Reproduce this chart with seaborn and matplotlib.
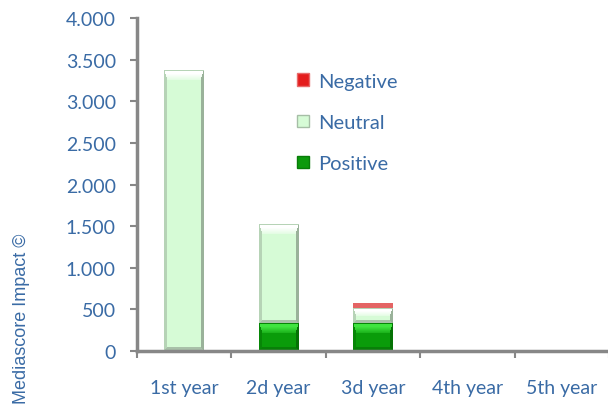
import matplotlib
matplotlib.use("Agg")
import matplotlib.pyplot as plt
from matplotlib.patches import Patch
from matplotlib.colors import to_rgb
import numpy as np
import pandas as pd
import seaborn as sns

# Mediascore impact per year, split by tone
years = ["1st year", "2d year", "3d year", "4th year", "5th year"]
positive = [0, 330, 330, 0, 8]
neutral = [3370, 1200, 190, 0, 0]
negative = [0, 0, 50, 0, 0]
yticks = [0, 500, 1000, 1500, 2000, 2500, 3000, 3500, 4000]
ytick_labels = ["0", "500", "1.000", "1.500", "2.000", "2.500", "3.000", "3.500", "4.000"]

TEXT_BLUE = "#3a6ba5"
AXIS_GREY = "#878787"

sns.set_style("white")
plt.rcParams["font.family"] = ["Lato", "DejaVu Sans"]

df = pd.DataFrame({"year": years, "pos": positive, "neu": neutral, "neg": negative})
df["zero"] = 0
df["pos_neu"] = df["pos"] + df["neu"]
df["total"] = df["pos_neu"] + df["neg"]

fig = plt.figure(figsize=(6.08, 4.06), dpi=100)
ax = fig.add_axes([0.225, 0.133, 0.777, 0.82])

# (top column, bottom column, face, top highlight, left, right, bottom shade)
layers = [
    ("total", "pos_neu", "#e46464", "#e46464", "#e46464", "#e46464", "#e46464"),
    ("pos_neu", "pos", "#d6fbd6", "#ffffff", "#b6d3b6", "#9ab29a", "#a8c0a8"),
    ("pos", "zero", "#0a9c0a", "#40e440", "#078607", "#057205", "#088008"),
]
for top_col, _, face, *_rest in layers:
    sns.barplot(data=df, x="year", y=top_col, color=face, saturation=1,
                width=0.42, linewidth=0, ax=ax)

ax.set_xlim(-0.5, len(years) - 0.5)
ax.set_ylim(0, 4000)
fig.canvas.draw()


def bevel_image(w, h, face, top, left, right, bottom, side_w=3, top_w=10, bot_w=4):
    """Picture-frame bevel: lit top, shaded sides and floor."""
    img = np.empty((h, w, 3))
    img[:] = to_rgb(face)
    yy, xx = np.mgrid[0:h, 0:w].astype(float)
    top_w = min(top_w, max(1, h / 2))
    bot_w = min(bot_w, max(1, h / 3))
    dists = {
        "left": xx / side_w,
        "right": (w - 1 - xx) / side_w,
        "top": yy / top_w,
        "bottom": (h - 1 - yy) / bot_w,
    }
    dmin = np.stack(list(dists.values())).min(axis=0)
    colors = {"left": left, "right": right, "top": top, "bottom": bottom}
    for name, d in dists.items():
        m = (d == dmin) & (d < 1)
        if name == "top":
            fade = (np.clip(1.35 - 1.1 * d, 0, 1) * m)[..., None]
            img = img * (1 - fade) + np.array(to_rgb(colors[name])) * fade
        else:
            img[m] = to_rgb(colors[name])
    # thin rim along the very top edge
    img[0, :] = to_rgb(left)
    return img


# Shade every visible bar segment between its lower and upper cumulative value
for (top_col, bot_col, face, top, left, right, bottom), bars in zip(layers, ax.containers):
    for patch, lo, hi in zip(bars.patches, df[bot_col], df[top_col]):
        if hi - lo <= 0:
            continue
        x0 = patch.get_x()
        x1 = x0 + patch.get_width()
        p0 = ax.transData.transform((x0, lo))
        p1 = ax.transData.transform((x1, hi))
        w = max(2, int(round(p1[0] - p0[0])))
        h = max(2, int(round(p1[1] - p0[1])))
        img = bevel_image(w, h, face, top, left, right, bottom)
        ax.imshow(img, extent=(x0, x1, lo, hi), aspect="auto",
                  interpolation="nearest", zorder=patch.get_zorder() + 0.1)

ax.set_xlim(-0.5, len(years) - 0.5)
ax.set_ylim(0, 4000)
ax.set_yticks(yticks)
ax.set_yticklabels(ytick_labels)
ax.set_xlabel("")
ax.set_ylabel("")

for s in ["top", "right"]:
    ax.spines[s].set_visible(False)
for s in ["left", "bottom"]:
    ax.spines[s].set_color(AXIS_GREY)
    ax.spines[s].set_linewidth(2.5)
    ax.spines[s].set_zorder(5)

ax.tick_params(axis="y", direction="out", length=5, width=1.5, color=AXIS_GREY,
               labelcolor=TEXT_BLUE, labelsize=14, pad=10, left=True)
ax.tick_params(axis="x", which="major", length=0, labelcolor=TEXT_BLUE,
               labelsize=14, pad=20)
ax.set_xticks(np.arange(-0.5, len(years) + 0.5, 1.0), minor=True)
ax.tick_params(axis="x", which="minor", direction="out", length=5, width=1.5,
               color=AXIS_GREY, bottom=True)

handles = [
    Patch(facecolor="#e41c1c", edgecolor="#e86a6a", linewidth=1, label="Negative"),
    Patch(facecolor="#d6fbd6", edgecolor="#a6bea6", linewidth=1, label="Neutral"),
    Patch(facecolor="#0c9a0c", edgecolor="#087c08", linewidth=1, label="Positive"),
]
leg = ax.legend(handles=handles, loc="upper left", bbox_to_anchor=(0.3, 0.89),
                frameon=False, fontsize=14.5, handlelength=0.6, handleheight=0.6,
                handletextpad=0.45, labelspacing=1.2)
for t in leg.get_texts():
    t.set_color(TEXT_BLUE)

fig.text(0.036, 0.215, "Mediascore Impact \u00a9", rotation=90, color=TEXT_BLUE,
         fontsize=13, family="Liberation Sans", ha="center", va="center")

fig.savefig("out.png", dpi=100)
